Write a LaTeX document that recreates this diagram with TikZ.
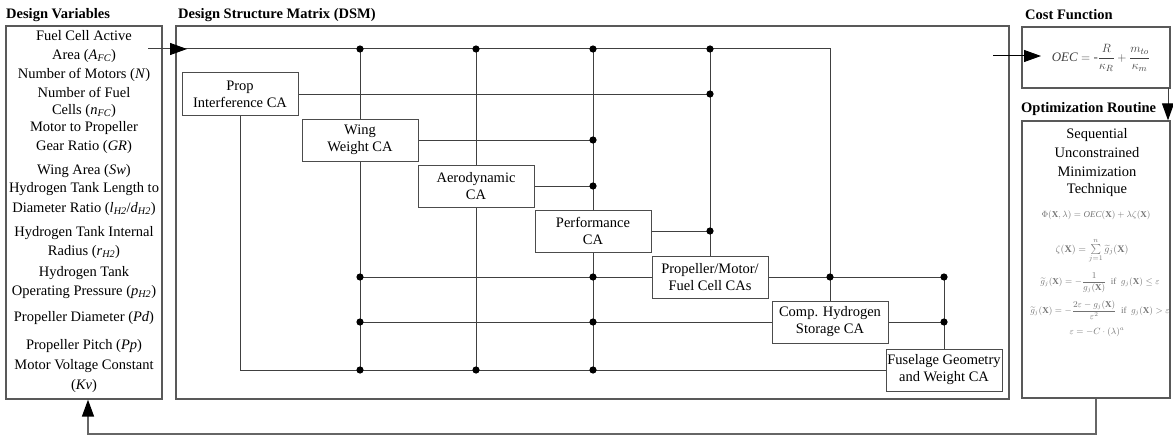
\documentclass[tikz,border=0pt]{standalone}
\usepackage{fontspec}
\setmainfont{Liberation Serif}
\usepackage{amsmath}
\usetikzlibrary{arrows.meta,backgrounds}
\newcommand{\vsub}[2]{\textit{#1}\textsubscript{\textit{#2}}}

\begin{document}
\begin{tikzpicture}[x=1pt,y=-1pt,
  every node/.style={font=\fontsize{14.5}{17}\selectfont, inner sep=0pt},
  frame/.style={draw=black!65, line width=1.3pt, minimum width=#1},
  ca/.style={draw=black!70, line width=1pt, fill=white, minimum width=116pt,
             minimum height=42pt, align=center},
  wire/.style={draw=black!75, line width=1pt},
  loopwire/.style={draw=black!60, line width=1.6pt},
  head/.style={-{Triangle[length=17pt,width=12pt,color=black]}},
  title/.style={font=\fontsize{14.5}{17}\selectfont\bfseries, anchor=west},
  eq/.style={font=\fontsize{9}{11}\selectfont, text=black!55},
]
\useasboundingbox (0,0) rectangle (1173,436);

% section titles
\node[title] (tdv)   at (6,15)    {Design Variables};
\node[title] (tdsm)  at (178,15)  {Design Structure Matrix (DSM)};
\node[title] (tcost) at (1025,15) {Cost Function};
\node[title] (topt)  at (1021,109){Optimization Routine};

% outer frames
\node[frame=156pt, minimum height=373pt] (dv)  at (84,212.5) {};
\node[frame=833pt, minimum height=373pt] (dsm) at (592.5,212.5) {};
\node[frame=148pt, minimum height=61pt] (cost) at (1096,57.5) {};
\node[frame=148pt, minimum height=277pt] (opt) at (1096,259.5) {};
\node[font=\fontsize{13}{15}\selectfont, text=black!75] (oec) at (1101,58)
  {$\mathit{OEC} = \text{-}\dfrac{R}{\kappa_R} + \dfrac{m_{to}}{\kappa_m}$};

% design variables
\foreach \y/\t [count=\i] in {
  36/{Fuel Cell Active},
  56/{Area (\vsub{A}{FC})},
  75/{Number of Motors (\textit{N})},
  92/{Number of Fuel},
  111/{Cells (\vsub{n}{FC})},
  128/{Motor to Propeller},
  147/{Gear Ratio (\textit{GR})},
  171/{Wing Area (\textit{Sw})},
  189/{Hydrogen Tank Length to},
  209/{Diameter Ratio (\vsub{l}{H2}/\vsub{d}{H2})},
  233/{Hydrogen Tank Internal},
  252/{Radius (\vsub{r}{H2})},
  273/{Hydrogen Tank},
  292/{Operating Pressure (\vsub{p}{H2})},
  318/{Propeller Diameter (\textit{Pd})},
  346/{Propeller Pitch (\textit{Pp})},
  366/{Motor Voltage Constant},
  386/{(\textit{Kv})}}
  \node (dv\i) at (84,\y) {\t};

% contributing analyses
\node[ca] (prop) at (240,94)  {Prop\\Interference CA};
\node[ca] (wing) at (360,140) {Wing\\Weight CA};
\node[ca] (aero) at (476,186) {Aerodynamic\\CA};
\node[ca] (perf) at (593,231) {Performance\\CA};
\node[ca] (pmf)  at (710,277) {Propeller/Motor/\\Fuel Cell CAs};
\node[ca] (comp) at (830,322) {Comp. Hydrogen\\Storage CA};
\node[ca] (fus)  at (944,370) {Fuselage Geometry\\and Weight CA};

\coordinate (in)   at (148,49);
\coordinate (intip) at (187,49);

% coupling lines behind the boxes
\begin{pgfonlayer}{background}
  \draw[wire] (in) -| (comp);
  \draw[wire] (wing |- in) -- (wing |- fus);
  \draw[wire] (aero |- in) -- (aero |- fus);
  \draw[wire] (perf |- in) -- (perf |- fus);
  \draw[wire] (pmf |- in) -- (pmf);
  \draw[wire] (fus |- pmf) -- (fus);
  \draw[wire] (prop) -- (pmf |- prop);
  \draw[wire] (wing) -- (perf |- wing);
  \draw[wire] (aero) -- (perf |- aero);
  \draw[wire] (perf) -- (pmf |- perf);
  \draw[wire] (wing |- pmf) -- (fus |- pmf);
  \draw[wire] (wing |- comp) -- (fus |- comp);
  \draw[wire] (prop) |- (fus);
\end{pgfonlayer}
\draw[wire, head] (in) -- (intip);

% junctions
\foreach \p in {(wing|-in),(aero|-in),(perf|-in),(pmf|-in),
                (pmf|-prop),(perf|-wing),(perf|-aero),(pmf|-perf),
                (wing|-pmf),(perf|-pmf),(comp|-pmf),(fus|-pmf),
                (wing|-comp),(perf|-comp),(fus|-comp),
                (wing|-fus),(aero|-fus),(perf|-fus)}
  \fill \p circle (3.6);

% optimization routine
\foreach \y/\t [count=\i] in {135/Sequential, 153/Unconstrained, 172/Minimization, 190/Technique}
  \node (opt\i) at (1097,\y) {\t};
\node[eq] (f1) at (1096,215) {$\Phi(\mathbf{X},\lambda)=\mathit{OEC}(\mathbf{X})+\lambda\zeta(\mathbf{X})$};
\node[eq, font=\fontsize{10}{12}\selectfont] (f2) at (1092,251)
  {$\zeta(\mathbf{X}) = \sum\limits_{j=1}^{n}\widetilde{g}_j(\mathbf{X})$};
\node[eq] (f3) at (1100,283)
  {$\widetilde{g}_j(\mathbf{X}) = -\dfrac{1}{g_j(\mathbf{X})}\ \ \text{if}\ \ g_j(\mathbf{X})\le\varepsilon$};
\node[eq] (f4) at (1100,310)
  {$\widetilde{g}_j(\mathbf{X}) = -\dfrac{2\varepsilon-g_j(\mathbf{X})}{\varepsilon^2}\ \ \text{if}\ \ g_j(\mathbf{X})>\varepsilon$};
\node[eq] (f5) at (1097,332) {$\varepsilon = -C\cdot(\lambda)^a$};

% links between the stages
\coordinate (cin)  at (993,56);
\coordinate (ctip) at (1041,56);
\draw[black, line width=1pt, -{Triangle[length=17pt,width=12pt]}] (cin) -- (ctip);
\coordinate (oa) at (1168,88);
\draw[wire, head] (oa) -- (oa |- opt.north);
\coordinate (fb) at (88,434);
\draw[loopwire, head] (opt.south) |- (fb) -- (fb |- dv.south);
\end{tikzpicture}
\end{document}
